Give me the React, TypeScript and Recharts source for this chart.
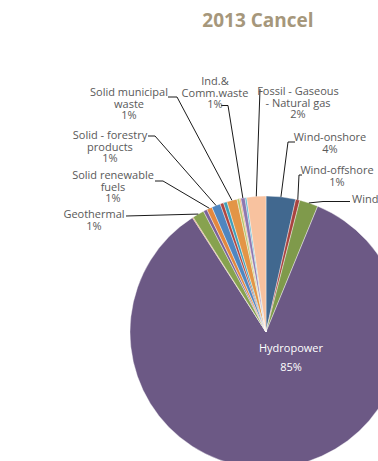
import { PieChart, Pie, Cell } from "recharts";

// slices in clockwise order from 12 o'clock
const sources = [
  "Wind-onshore",
  "Wind-offshore",
  "Wind-small scale",
  "Hydropower",
  "Other source 1",
  "Geothermal",
  "Other source 2",
  "Solid renewable fuels",
  "Solid - forestry products",
  "Other source 3",
  "Other source 4",
  "Solid municipal waste",
  "Other source 5",
  "Other source 6",
  "Ind.& Comm.waste",
  "Other source 7",
  "Fossil - Gaseous - Natural gas",
];
const shares = [3.5, 0.5, 2.2, 84.6, 0.1, 1.4, 0.44, 0.65, 1.04, 0.41, 0.42, 1.21, 0.3, 0.15, 0.5, 0.2, 2.27];

const COLORS = [
  "#41688f", "#a8433f", "#7f9a4b", "#6c5985", "#d9733a", "#87a24f", "#7a6299", "#e3883f", "#4f86c0",
  "#b0453f", "#3ea0ba", "#e39546", "#b4c66a", "#f0a060", "#8e78b0", "#5bb6cf", "#f8c29f",
];

// label layout, relative to the pie centre
const CX = 261;
const CY = 327;
type LabelLayout = { x: number; y: number; lines: string[]; anchor?: "start" | "middle"; line?: [number, number][]; color?: string; gap?: number };
const LABELS: Record<string, LabelLayout> = {
  "Wind-onshore": { x: 325, y: 136, lines: ["Wind-onshore"], line: [[290, 137], [283, 137]] },
  "Wind-offshore": { x: 332, y: 169, lines: ["Wind-offshore"], line: [[297, 170], [294, 170]] },
  "Wind-small scale": { x: 347, y: 198, lines: ["Wind-small scale"], anchor: "start", line: [[345, 196.5], [318, 196.5]] },
  "Fossil - Gaseous - Natural gas": { x: 293, y: 90, lines: ["Fossil - Gaseous", "- Natural gas"], line: [[255, 84], [255, 84]] },
  "Ind.& Comm.waste": { x: 210, y: 80, lines: ["Ind.&", "Comm.waste"], line: [[216, 100.5], [223, 100.5]] },
  "Solid municipal waste": { x: 124, y: 91, lines: ["Solid municipal", "waste"], line: [[163, 92], [172, 92]] },
  "Solid - forestry products": { x: 105, y: 134, lines: ["Solid - forestry", "products"], line: [[143, 131], [150, 131]] },
  "Solid renewable fuels": { x: 108, y: 174, lines: ["Solid renewable", "fuels"], line: [[150, 176], [158, 176]] },
  Geothermal: { x: 89, y: 213, lines: ["Geothermal"], line: [[121, 211], [121, 211]] },
  Hydropower: { x: 286, y: 347, lines: ["Hydropower"], color: "#ffffff", gap: 19 },
};

const data = sources.map((name, i) => ({ name, value: shares[i] }));

const RAD = Math.PI / 180;

function renderLabel(props: any) {
  const { cx, cy, midAngle, outerRadius, percent, name } = props;
  const lay = LABELS[name];
  if (!lay) return null;
  const dx = cx - CX;
  const dy = cy - CY;
  const gap = lay.gap ?? 11.5;
  const anchor = lay.anchor ?? "middle";
  const px = cx + outerRadius * Math.cos(-midAngle * RAD);
  const py = cy + outerRadius * Math.sin(-midAngle * RAD);
  const rows = anchor === "start" ? lay.lines : [...lay.lines, `${Math.round(percent * 100)}%`];
  return (
    <g>
      {lay.line && (
        <polyline
          points={[...lay.line.map(([x, y]) => `${x + dx},${y + dy}`), `${px},${py}`].join(" ")}
          fill="none"
          stroke="#000"
          strokeWidth={0.9}
        />
      )}
      <text x={lay.x + dx} y={lay.y + dy} textAnchor={anchor} fill={lay.color ?? "#595959"} fontSize={11} fontFamily="'Open Sans', sans-serif">
        {rows.map((r, i) => (
          <tspan key={i} x={lay.x + dx} dy={i === 0 ? 0 : gap}>
            {r}
          </tspan>
        ))}
      </text>
    </g>
  );
}

export default function App() {
  return (
    <div style={{ position: "absolute", left: 0, top: 0, width: 378, height: 461, overflow: "hidden", background: "#fff" }}>
      <PieChart width={378} height={461}>
        <text x={258} y={27} textAnchor="middle" fill="#a6977b" fontSize={19} fontWeight={700} fontFamily="'Open Sans', sans-serif">
          2013 Cancel
        </text>
        <Pie
          data={data}
          dataKey="value"
          nameKey="name"
          cx={CX}
          cy={CY}
          outerRadius={136}
          startAngle={90}
          endAngle={-270}
          stroke="#ffffff"
          strokeWidth={0.4}
          label={renderLabel}
          labelLine={false}
          isAnimationActive={false}
        >
          {data.map((d, i) => (
            <Cell key={d.name} fill={COLORS[i]} />
          ))}
        </Pie>
      </PieChart>
    </div>
  );
}
